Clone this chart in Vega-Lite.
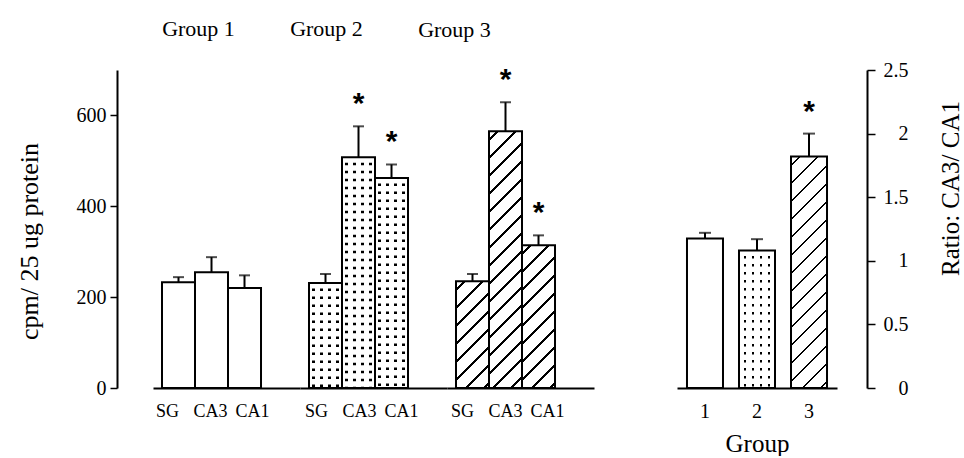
{
"$schema": "https://vega.github.io/schema/vega-lite/v6.json",
"padding": {"left": 16, "top": 12, "right": 0, "bottom": 0},
"config": {
  "view": {"stroke": null},
  "font": "Liberation Serif",
  "axis": {"labelFont": "Liberation Serif", "titleFont": "Liberation Serif", "labelColor": "black", "titleColor": "black", "domainColor": "black", "tickColor": "black", "grid": false, "titleFontWeight": "normal"},
  "title": {"font": "Liberation Serif", "fontWeight": "normal", "fontSize": 22, "color": "black"}
},
"datasets": {
  "regions": [
    {"group": "Group 1", "region": "SG", "value": 233, "upper": 244, "sig": false},
    {"group": "Group 1", "region": "CA3", "value": 255, "upper": 288, "sig": false},
    {"group": "Group 1", "region": "CA1", "value": 220, "upper": 248, "sig": false},
    {"group": "Group 2", "region": "SG", "value": 231, "upper": 251, "sig": false},
    {"group": "Group 2", "region": "CA3", "value": 508, "upper": 576, "sig": true},
    {"group": "Group 2", "region": "CA1", "value": 462, "upper": 492, "sig": true},
    {"group": "Group 3", "region": "SG", "value": 235, "upper": 251, "sig": false},
    {"group": "Group 3", "region": "CA3", "value": 565, "upper": 629, "sig": true},
    {"group": "Group 3", "region": "CA1", "value": 314, "upper": 336, "sig": true}
  ],
  "ratio": [
    {"grp": "1", "value": 1.175, "upper": 1.22, "sig": false},
    {"grp": "2", "value": 1.08, "upper": 1.17, "sig": false},
    {"grp": "3", "value": 1.82, "upper": 2.0, "sig": true}
  ]
},
"spacing": 83,
"hconcat": [
  {
    "bounds": "flush",
    "spacing": 0,
    "hconcat": [
      {
        "width": 147, "height": 318,
        "title": {"text": "Group 1", "dx": -28, "offset": 7, "baseline": "bottom", "frame": "group"},
        "data": {"name": "regions"},
        "transform": [{"filter": "datum.group === 'Group 1'"}],
        "encoding": {"x": {"field": "region", "type": "nominal", "sort": ["SG", "CA3", "CA1"], "scale": {"paddingInner": 0, "paddingOuter": 0.727, "align": 0.1875}, "axis": {"title": null, "ticks": false, "labelAngle": 0, "labelFontSize": 18, "labelPadding": 14, "domainWidth": 2, "labelOffset": {"condition": [{"test": "datum.label === 'SG'", "value": -11}, {"test": "datum.label === 'CA1'", "value": 8}], "value": -1}}}},
        "layer": [
          {"mark": {"type": "bar", "fill": "white", "stroke": "black", "strokeWidth": 2},
           "encoding": {"y": {"field": "value", "type": "quantitative", "scale": {"domain": [0, 700]}, "axis": {"values": [0, 200, 400, 600], "offset": 36, "tickSize": 7, "tickWidth": 1.5, "domainWidth": 2, "labelPadding": 4, "labelFontSize": 20, "title": "cpm/ 25 ug protein", "titleFontSize": 26, "titlePadding": 34, "titleY": 171}}}},
          {"mark": {"type": "rule", "color": "black", "strokeWidth": 2},
           "encoding": {"y": {"field": "value", "type": "quantitative", "scale": {"domain": [0, 700]}}, "y2": {"field": "upper"}}},
          {"mark": {"type": "tick", "color": "black", "thickness": 2, "size": 11},
           "encoding": {"y": {"field": "upper", "type": "quantitative", "scale": {"domain": [0, 700]}}}}
        ]
      },
      {
        "width": 147, "height": 318,
        "title": {"text": "Group 2", "dx": -47, "offset": 7, "baseline": "bottom", "frame": "group"},
        "data": {"name": "regions"},
        "transform": [{"filter": "datum.group === 'Group 2'"}],
        "encoding": {"x": {"field": "region", "type": "nominal", "sort": ["SG", "CA3", "CA1"], "scale": {"paddingInner": 0, "paddingOuter": 0.727, "align": 0.1875}, "axis": {"title": null, "ticks": false, "labelAngle": 0, "labelFontSize": 18, "labelPadding": 14, "domainWidth": 2, "labelOffset": {"condition": [{"test": "datum.label === 'SG'", "value": -9}, {"test": "datum.label === 'CA1'", "value": 10}], "value": 1}}}},
        "layer": [
          {"mark": {"type": "bar", "strokeWidth": 0, "fill": {"gradient": "linear", "x1": 0, "y1": 0, "x2": 1, "y2": 0, "stops": [
            {"offset": 0, "color": "white"},
            {"offset": 0.098, "color": "white"}, {"offset": 0.098, "color": "black"}, {"offset": 0.174, "color": "black"}, {"offset": 0.174, "color": "white"},
            {"offset": 0.341, "color": "white"}, {"offset": 0.341, "color": "black"}, {"offset": 0.417, "color": "black"}, {"offset": 0.417, "color": "white"},
            {"offset": 0.583, "color": "white"}, {"offset": 0.583, "color": "black"}, {"offset": 0.659, "color": "black"}, {"offset": 0.659, "color": "white"},
            {"offset": 0.826, "color": "white"}, {"offset": 0.826, "color": "black"}, {"offset": 0.902, "color": "black"}, {"offset": 0.902, "color": "white"},
            {"offset": 1, "color": "white"}]}},
           "encoding": {"y": {"field": "value", "type": "quantitative", "scale": {"domain": [0, 700]}, "axis": null}}},
          {"mark": {"type": "rule", "color": "white", "strokeWidth": 29, "strokeDash": [5.5, 2.5], "strokeCap": "butt"},
           "encoding": {"y": {"field": "value", "type": "quantitative", "scale": {"domain": [0, 700]}, "axis": null}, "y2": {"datum": 0}}},
          {"mark": {"type": "bar", "fill": "transparent", "stroke": "black", "strokeWidth": 2},
           "encoding": {"y": {"field": "value", "type": "quantitative", "scale": {"domain": [0, 700]}, "axis": null}}},
          {"mark": {"type": "rule", "color": "black", "strokeWidth": 2},
           "encoding": {"y": {"field": "value", "type": "quantitative", "scale": {"domain": [0, 700]}, "axis": null}, "y2": {"field": "upper"}}},
          {"mark": {"type": "tick", "color": "black", "thickness": 2, "size": 11},
           "encoding": {"y": {"field": "upper", "type": "quantitative", "scale": {"domain": [0, 700]}, "axis": null}}},
          {"transform": [{"filter": "datum.sig"}],
           "mark": {"type": "text", "text": "*", "font": "Liberation Sans", "fontWeight": "bold", "fontSize": 30, "baseline": "alphabetic", "dy": -13, "color": "black"},
           "encoding": {"y": {"field": "upper", "type": "quantitative", "scale": {"domain": [0, 700]}, "axis": null}}}
        ]
      },
      {
        "width": 147, "height": 318,
        "title": {"text": "Group 3", "dx": -66, "offset": 1, "baseline": "bottom", "frame": "group"},
        "data": {"name": "regions"},
        "transform": [{"filter": "datum.group === 'Group 3'"}],
        "encoding": {"x": {"field": "region", "type": "nominal", "sort": ["SG", "CA3", "CA1"], "scale": {"paddingInner": 0, "paddingOuter": 0.727, "align": 0.1875}, "axis": {"title": null, "ticks": false, "labelAngle": 0, "labelFontSize": 18, "labelPadding": 14, "domainWidth": 2, "labelOffset": {"condition": [{"test": "datum.label === 'SG'", "value": -10}, {"test": "datum.label === 'CA1'", "value": 9}], "value": 0}}}},
        "layer": [
          {"transform": [{"filter": "datum.region === 'SG'"}],
           "mark": {"type": "bar", "stroke": "black", "strokeWidth": 2, "fill": {"gradient": "linear", "x1": 0, "y1": 0, "x2": 1, "y2": 3.2352, "stops": [
            {"offset": 0, "color": "white"},
            {"offset": 0.020085, "color": "white"}, {"offset": 0.020085, "color": "black"}, {"offset": 0.027485, "color": "black"}, {"offset": 0.027485, "color": "white"},
            {"offset": 0.067656, "color": "white"}, {"offset": 0.067656, "color": "black"}, {"offset": 0.075056, "color": "black"}, {"offset": 0.075056, "color": "white"},
            {"offset": 0.115227, "color": "white"}, {"offset": 0.115227, "color": "black"}, {"offset": 0.122627, "color": "black"}, {"offset": 0.122627, "color": "white"},
            {"offset": 0.162798, "color": "white"}, {"offset": 0.162798, "color": "black"}, {"offset": 0.170198, "color": "black"}, {"offset": 0.170198, "color": "white"},
            {"offset": 0.210369, "color": "white"}, {"offset": 0.210369, "color": "black"}, {"offset": 0.217769, "color": "black"}, {"offset": 0.217769, "color": "white"},
            {"offset": 0.257940, "color": "white"}, {"offset": 0.257940, "color": "black"}, {"offset": 0.265340, "color": "black"}, {"offset": 0.265340, "color": "white"},
            {"offset": 0.305511, "color": "white"}, {"offset": 0.305511, "color": "black"}, {"offset": 0.312911, "color": "black"}, {"offset": 0.312911, "color": "white"},
            {"offset": 0.353082, "color": "white"}, {"offset": 0.353082, "color": "black"}, {"offset": 0.360482, "color": "black"}, {"offset": 0.360482, "color": "white"},
            {"offset": 1, "color": "white"}]}},
           "encoding": {"y": {"field": "value", "type": "quantitative", "scale": {"domain": [0, 700]}, "axis": null}}},
          {"transform": [{"filter": "datum.region === 'CA3'"}],
           "mark": {"type": "bar", "stroke": "black", "strokeWidth": 2, "fill": {"gradient": "linear", "x1": 0, "y1": 0, "x2": 1, "y2": 7.7779, "stops": [
            {"offset": 0, "color": "white"},
            {"offset": 0.003745, "color": "white"}, {"offset": 0.003745, "color": "black"}, {"offset": 0.005125, "color": "black"}, {"offset": 0.005125, "color": "white"},
            {"offset": 0.012615, "color": "white"}, {"offset": 0.012615, "color": "black"}, {"offset": 0.013995, "color": "black"}, {"offset": 0.013995, "color": "white"},
            {"offset": 0.021485, "color": "white"}, {"offset": 0.021485, "color": "black"}, {"offset": 0.022865, "color": "black"}, {"offset": 0.022865, "color": "white"},
            {"offset": 0.030355, "color": "white"}, {"offset": 0.030355, "color": "black"}, {"offset": 0.031735, "color": "black"}, {"offset": 0.031735, "color": "white"},
            {"offset": 0.039225, "color": "white"}, {"offset": 0.039225, "color": "black"}, {"offset": 0.040605, "color": "black"}, {"offset": 0.040605, "color": "white"},
            {"offset": 0.048094, "color": "white"}, {"offset": 0.048094, "color": "black"}, {"offset": 0.049474, "color": "black"}, {"offset": 0.049474, "color": "white"},
            {"offset": 0.056964, "color": "white"}, {"offset": 0.056964, "color": "black"}, {"offset": 0.058344, "color": "black"}, {"offset": 0.058344, "color": "white"},
            {"offset": 0.065834, "color": "white"}, {"offset": 0.065834, "color": "black"}, {"offset": 0.067214, "color": "black"}, {"offset": 0.067214, "color": "white"},
            {"offset": 0.074704, "color": "white"}, {"offset": 0.074704, "color": "black"}, {"offset": 0.076084, "color": "black"}, {"offset": 0.076084, "color": "white"},
            {"offset": 0.083574, "color": "white"}, {"offset": 0.083574, "color": "black"}, {"offset": 0.084954, "color": "black"}, {"offset": 0.084954, "color": "white"},
            {"offset": 0.092444, "color": "white"}, {"offset": 0.092444, "color": "black"}, {"offset": 0.093824, "color": "black"}, {"offset": 0.093824, "color": "white"},
            {"offset": 0.101314, "color": "white"}, {"offset": 0.101314, "color": "black"}, {"offset": 0.102694, "color": "black"}, {"offset": 0.102694, "color": "white"},
            {"offset": 0.110184, "color": "white"}, {"offset": 0.110184, "color": "black"}, {"offset": 0.111564, "color": "black"}, {"offset": 0.111564, "color": "white"},
            {"offset": 0.119054, "color": "white"}, {"offset": 0.119054, "color": "black"}, {"offset": 0.120434, "color": "black"}, {"offset": 0.120434, "color": "white"},
            {"offset": 0.127923, "color": "white"}, {"offset": 0.127923, "color": "black"}, {"offset": 0.129303, "color": "black"}, {"offset": 0.129303, "color": "white"},
            {"offset": 0.136793, "color": "white"}, {"offset": 0.136793, "color": "black"}, {"offset": 0.138173, "color": "black"}, {"offset": 0.138173, "color": "white"},
            {"offset": 1, "color": "white"}]}},
           "encoding": {"y": {"field": "value", "type": "quantitative", "scale": {"domain": [0, 700]}, "axis": null}}},
          {"transform": [{"filter": "datum.region === 'CA1'"}],
           "mark": {"type": "bar", "stroke": "black", "strokeWidth": 2, "fill": {"gradient": "linear", "x1": 0, "y1": 0, "x2": 1, "y2": 4.3227, "stops": [
            {"offset": 0, "color": "white"},
            {"offset": 0.011699, "color": "white"}, {"offset": 0.011699, "color": "black"}, {"offset": 0.016009, "color": "black"}, {"offset": 0.016009, "color": "white"},
            {"offset": 0.039407, "color": "white"}, {"offset": 0.039407, "color": "black"}, {"offset": 0.043717, "color": "black"}, {"offset": 0.043717, "color": "white"},
            {"offset": 0.067115, "color": "white"}, {"offset": 0.067115, "color": "black"}, {"offset": 0.071425, "color": "black"}, {"offset": 0.071425, "color": "white"},
            {"offset": 0.094823, "color": "white"}, {"offset": 0.094823, "color": "black"}, {"offset": 0.099133, "color": "black"}, {"offset": 0.099133, "color": "white"},
            {"offset": 0.122531, "color": "white"}, {"offset": 0.122531, "color": "black"}, {"offset": 0.126841, "color": "black"}, {"offset": 0.126841, "color": "white"},
            {"offset": 0.150239, "color": "white"}, {"offset": 0.150239, "color": "black"}, {"offset": 0.154549, "color": "black"}, {"offset": 0.154549, "color": "white"},
            {"offset": 0.177947, "color": "white"}, {"offset": 0.177947, "color": "black"}, {"offset": 0.182257, "color": "black"}, {"offset": 0.182257, "color": "white"},
            {"offset": 0.205655, "color": "white"}, {"offset": 0.205655, "color": "black"}, {"offset": 0.209965, "color": "black"}, {"offset": 0.209965, "color": "white"},
            {"offset": 0.233363, "color": "white"}, {"offset": 0.233363, "color": "black"}, {"offset": 0.237673, "color": "black"}, {"offset": 0.237673, "color": "white"},
            {"offset": 0.261071, "color": "white"}, {"offset": 0.261071, "color": "black"}, {"offset": 0.265381, "color": "black"}, {"offset": 0.265381, "color": "white"},
            {"offset": 1, "color": "white"}]}},
           "encoding": {"y": {"field": "value", "type": "quantitative", "scale": {"domain": [0, 700]}, "axis": null}}},
          {"mark": {"type": "rule", "color": "black", "strokeWidth": 2},
           "encoding": {"y": {"field": "value", "type": "quantitative", "scale": {"domain": [0, 700]}, "axis": null}, "y2": {"field": "upper"}}},
          {"mark": {"type": "tick", "color": "black", "thickness": 2, "size": 11},
           "encoding": {"y": {"field": "upper", "type": "quantitative", "scale": {"domain": [0, 700]}, "axis": null}}},
          {"transform": [{"filter": "datum.sig"}],
           "mark": {"type": "text", "text": "*", "font": "Liberation Sans", "fontWeight": "bold", "fontSize": 30, "baseline": "alphabetic", "dy": -13, "color": "black"},
           "encoding": {"y": {"field": "upper", "type": "quantitative", "scale": {"domain": [0, 700]}, "axis": null}}}
        ]
      }
    ]
  },
  {
    "width": 160, "height": 318,
    "title": {"text": " ", "offset": 3, "baseline": "bottom", "frame": "group"},
    "data": {"name": "ratio"},
    "encoding": {"x": {"field": "grp", "type": "ordinal", "scale": {"paddingInner": 0.3077, "paddingOuter": 0.192}, "axis": {"title": "Group", "titleFontSize": 25, "titlePadding": 10, "ticks": false, "labelAngle": 0, "labelFontSize": 20, "labelPadding": 13, "domainWidth": 2}}},
    "layer": [
      {"transform": [{"filter": "datum.grp === '1'"}],
       "mark": {"type": "bar", "fill": "white", "stroke": "black", "strokeWidth": 2},
       "encoding": {"y": {"field": "value", "type": "quantitative", "scale": {"domain": [0, 2.5]}, "axis": {"orient": "right", "offset": 30, "values": [0, 0.5, 1, 1.5, 2, 2.5], "format": "~g", "tickSize": 8, "tickWidth": 1.5, "domainWidth": 2, "labelAlign": "right", "labelPadding": 33, "labelFontSize": 20, "title": "Ratio:  CA3/ CA1", "titleFontSize": 25, "titleAngle": 270, "titleBaseline": "top", "titlePadding": 30, "titleY": 118}}}},
      {"transform": [{"filter": "datum.grp === '2'"}],
       "mark": {"type": "bar", "strokeWidth": 0, "fill": {"gradient": "linear", "x1": 0, "y1": 0, "x2": 1, "y2": 0, "stops": [
        {"offset": 0, "color": "white"},
        {"offset": 0.132, "color": "white"}, {"offset": 0.132, "color": "black"}, {"offset": 0.201, "color": "black"}, {"offset": 0.201, "color": "white"},
        {"offset": 0.354, "color": "white"}, {"offset": 0.354, "color": "black"}, {"offset": 0.424, "color": "black"}, {"offset": 0.424, "color": "white"},
        {"offset": 0.576, "color": "white"}, {"offset": 0.576, "color": "black"}, {"offset": 0.646, "color": "black"}, {"offset": 0.646, "color": "white"},
        {"offset": 0.799, "color": "white"}, {"offset": 0.799, "color": "black"}, {"offset": 0.868, "color": "black"}, {"offset": 0.868, "color": "white"},
        {"offset": 1, "color": "white"}]}},
       "encoding": {"y": {"field": "value", "type": "quantitative", "scale": {"domain": [0, 2.5]}}}},
      {"transform": [{"filter": "datum.grp === '2'"}],
       "mark": {"type": "rule", "color": "white", "strokeWidth": 32, "strokeDash": [5.5, 2.5], "strokeCap": "butt"},
       "encoding": {"y": {"field": "value", "type": "quantitative", "scale": {"domain": [0, 2.5]}}, "y2": {"datum": 0}}},
      {"transform": [{"filter": "datum.grp === '2'"}],
       "mark": {"type": "bar", "fill": "transparent", "stroke": "black", "strokeWidth": 2},
       "encoding": {"y": {"field": "value", "type": "quantitative", "scale": {"domain": [0, 2.5]}}}},
      {"transform": [{"filter": "datum.grp === '3'"}],
       "mark": {"type": "bar", "stroke": "black", "strokeWidth": 2, "fill": {"gradient": "linear", "x1": 0, "y1": 0, "x2": 1, "y2": 6.4306, "stops": [
        {"offset": 0, "color": "white"},
        {"offset": 0.004985, "color": "white"}, {"offset": 0.004985, "color": "black"}, {"offset": 0.006822, "color": "black"}, {"offset": 0.006822, "color": "white"},
        {"offset": 0.016791, "color": "white"}, {"offset": 0.016791, "color": "black"}, {"offset": 0.018628, "color": "black"}, {"offset": 0.018628, "color": "white"},
        {"offset": 0.028597, "color": "white"}, {"offset": 0.028597, "color": "black"}, {"offset": 0.030434, "color": "black"}, {"offset": 0.030434, "color": "white"},
        {"offset": 0.040403, "color": "white"}, {"offset": 0.040403, "color": "black"}, {"offset": 0.042240, "color": "black"}, {"offset": 0.042240, "color": "white"},
        {"offset": 0.052209, "color": "white"}, {"offset": 0.052209, "color": "black"}, {"offset": 0.054046, "color": "black"}, {"offset": 0.054046, "color": "white"},
        {"offset": 0.064015, "color": "white"}, {"offset": 0.064015, "color": "black"}, {"offset": 0.065852, "color": "black"}, {"offset": 0.065852, "color": "white"},
        {"offset": 0.075821, "color": "white"}, {"offset": 0.075821, "color": "black"}, {"offset": 0.077658, "color": "black"}, {"offset": 0.077658, "color": "white"},
        {"offset": 0.087627, "color": "white"}, {"offset": 0.087627, "color": "black"}, {"offset": 0.089464, "color": "black"}, {"offset": 0.089464, "color": "white"},
        {"offset": 0.099433, "color": "white"}, {"offset": 0.099433, "color": "black"}, {"offset": 0.101270, "color": "black"}, {"offset": 0.101270, "color": "white"},
        {"offset": 0.111239, "color": "white"}, {"offset": 0.111239, "color": "black"}, {"offset": 0.113076, "color": "black"}, {"offset": 0.113076, "color": "white"},
        {"offset": 0.123045, "color": "white"}, {"offset": 0.123045, "color": "black"}, {"offset": 0.124882, "color": "black"}, {"offset": 0.124882, "color": "white"},
        {"offset": 0.134851, "color": "white"}, {"offset": 0.134851, "color": "black"}, {"offset": 0.136688, "color": "black"}, {"offset": 0.136688, "color": "white"},
        {"offset": 0.146657, "color": "white"}, {"offset": 0.146657, "color": "black"}, {"offset": 0.148494, "color": "black"}, {"offset": 0.148494, "color": "white"},
        {"offset": 0.158463, "color": "white"}, {"offset": 0.158463, "color": "black"}, {"offset": 0.160300, "color": "black"}, {"offset": 0.160300, "color": "white"},
        {"offset": 0.170269, "color": "white"}, {"offset": 0.170269, "color": "black"}, {"offset": 0.172106, "color": "black"}, {"offset": 0.172106, "color": "white"},
        {"offset": 1, "color": "white"}]}},
       "encoding": {"y": {"field": "value", "type": "quantitative", "scale": {"domain": [0, 2.5]}}}},
      {"mark": {"type": "rule", "color": "black", "strokeWidth": 2},
       "encoding": {"y": {"field": "value", "type": "quantitative", "scale": {"domain": [0, 2.5]}}, "y2": {"field": "upper"}}},
      {"mark": {"type": "tick", "color": "black", "thickness": 2, "size": 12},
       "encoding": {"y": {"field": "upper", "type": "quantitative", "scale": {"domain": [0, 2.5]}}}},
      {"transform": [{"filter": "datum.sig"}],
       "mark": {"type": "text", "text": "*", "font": "Liberation Sans", "fontWeight": "bold", "fontSize": 30, "baseline": "alphabetic", "dy": -13, "color": "black"},
       "encoding": {"y": {"field": "upper", "type": "quantitative", "scale": {"domain": [0, 2.5]}}}}
    ]
  }
]
}
